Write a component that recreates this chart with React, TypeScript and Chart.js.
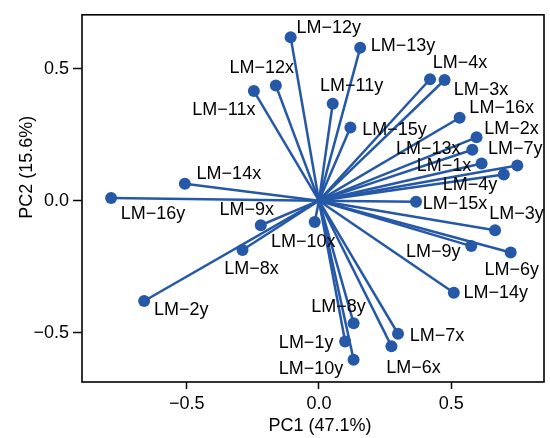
import React, { useEffect, useRef } from "react";
import { Chart, registerables } from "chart.js";

Chart.register(...registerables);

const labels = [
  "LM−1x", "LM−2x", "LM−3x", "LM−4x", "LM−6x", "LM−7x", "LM−8x", "LM−9x",
  "LM−10x", "LM−11x", "LM−12x", "LM−13x", "LM−14x", "LM−15x", "LM−16x",
  "LM−1y", "LM−2y", "LM−3y", "LM−4y", "LM−6y", "LM−7y", "LM−8y", "LM−9y",
  "LM−10y", "LM−11y", "LM−12y", "LM−13y", "LM−14y", "LM−15y", "LM−16y",
];
const pc1 = [
  0.615, 0.596, 0.475, 0.42, 0.274, 0.299, -0.289, -0.22,
  -0.016, -0.246, -0.163, 0.58, -0.507, 0.367, 0.532,
  0.099, -0.661, 0.666, 0.699, 0.725, 0.75, 0.131, 0.576,
  0.131, 0.052, -0.107, 0.156, 0.51, 0.119, -0.786,
];
const pc2 = [
  0.141, 0.24, 0.457, 0.46, -0.551, -0.504, -0.187, -0.093,
  -0.081, 0.415, 0.436, 0.193, 0.064, -0.004, 0.314,
  -0.533, -0.38, -0.112, 0.099, -0.196, 0.133, -0.464, -0.172,
  -0.602, 0.367, 0.619, 0.579, -0.349, 0.277, 0.01,
];
// label offsets (pixels) from each point to its text centre
const labelDx = [
  -37.6, 35, 36.5, 30, 22, 39, 9, -14, -11.5, -30, -14, -44, 44, 39, 42,
  -39, 37, 21.5, -33.7, 1, -2, -15, -38, -42.5, 19, 38, 42.7, 42, 44, 42,
];
const labelDy = [
  2.6, -8, 10, -16, 22, 2, 19, -15, 20, 19, -18, -1, -10, 2.4, -10,
  2, 9, -16, 10, 18, -17, -16, 6, 9, -18, -9, -1.6, 0, 2, 16,
];
const tickValues = [-0.5, 0, 0.5];
const xTitle = "PC1 (47.1%)";
const yTitle = "PC2 (15.6%)";

const BLUE = "#2558a6";
const FONT = "'Liberation Sans', Arial, Helvetica, sans-serif";

const fmt = (v: number) => (v < 0 ? "−" : "") + Math.abs(v).toFixed(1);

export default function App() {
  const ref = useRef<HTMLCanvasElement | null>(null);

  useEffect(() => {
    document.body.style.margin = "0";
    const canvas = ref.current;
    if (!canvas) return;

    const datasets = labels.map((lab, i) => ({
      label: lab,
      data: [
        { x: 0, y: 0 },
        { x: pc1[i], y: pc2[i] },
      ],
      borderColor: BLUE,
      backgroundColor: BLUE,
      borderWidth: 2.5,
      pointRadius: [0, 6],
      pointHoverRadius: [0, 6],
      pointBorderWidth: 0,
      showLine: true,
      fill: false,
      tension: 0,
    }));

    const overlay = {
      id: "overlay",
      afterDatasetsDraw(chart: any) {
        const ctx = chart.ctx;
        const xs = chart.scales.x;
        const ys = chart.scales.y;
        ctx.save();
        ctx.font = `18px ${FONT}`;
        ctx.fillStyle = "#000";
        ctx.textAlign = "center";
        ctx.textBaseline = "middle";
        labels.forEach((lab, i) => {
          const px = xs.getPixelForValue(pc1[i]) + labelDx[i];
          const py = ys.getPixelForValue(pc2[i]) + labelDy[i];
          ctx.fillText(lab, px, py);
        });
        ctx.restore();
      },
      afterDraw(chart: any) {
        const ctx = chart.ctx;
        const a = chart.chartArea;
        ctx.save();
        ctx.strokeStyle = "#000";
        ctx.lineWidth = 1.6;
        ctx.strokeRect(a.left, a.top, a.right - a.left, a.bottom - a.top);
        ctx.font = `18px ${FONT}`;
        ctx.fillStyle = "#000";
        ctx.textAlign = "center";
        ctx.textBaseline = "middle";
        ctx.fillText(xTitle, (a.left + a.right) / 2 + 7, a.bottom + 44);
        ctx.translate(27, a.top + (a.bottom - a.top) * 0.415);
        ctx.rotate(-Math.PI / 2);
        ctx.fillText(yTitle, 0, 0);
        ctx.restore();
      },
    };

    const chart = new Chart(canvas, {
      type: "scatter",
      data: { datasets: datasets as any },
      options: {
        responsive: false,
        animation: false,
        layout: { padding: { top: 10, right: 2, left: 0, bottom: 0 } },
        plugins: { legend: { display: false }, tooltip: { enabled: false } },
        scales: {
          x: {
            type: "linear",
            min: -0.896,
            max: 0.851,
            afterBuildTicks: (s: any) => {
              s.ticks = tickValues.map((v) => ({ value: v }));
            },
            afterFit: (s: any) => {
              s.height = 56;
            },
            border: { display: false },
            grid: {
              drawOnChartArea: false,
              drawTicks: true,
              tickLength: 7,
              tickWidth: 1.5,
              tickColor: "#000",
            },
            ticks: {
              autoSkip: false,
              maxRotation: 0,
              padding: 4,
              color: "#000",
              font: { family: FONT, size: 18 },
              callback: (v: any) => fmt(Number(v)),
            },
          },
          y: {
            type: "linear",
            min: -0.6867,
            max: 0.704,
            afterBuildTicks: (s: any) => {
              s.ticks = tickValues.map((v) => ({ value: v }));
            },
            afterFit: (s: any) => {
              s.width = 82;
            },
            border: { display: false },
            grid: {
              drawOnChartArea: false,
              drawTicks: true,
              tickLength: 9,
              tickWidth: 1.5,
              tickColor: "#000",
            },
            ticks: {
              autoSkip: false,
              padding: 4,
              color: "#000",
              font: { family: FONT, size: 18 },
              callback: (v: any) => fmt(Number(v)),
            },
          },
        },
      },
      plugins: [overlay],
    });

    return () => chart.destroy();
  }, []);

  return (
    <div style={{ width: 550, height: 438 }}>
      <canvas ref={ref} width={550} height={438} style={{ display: "block" }} />
    </div>
  );
}
